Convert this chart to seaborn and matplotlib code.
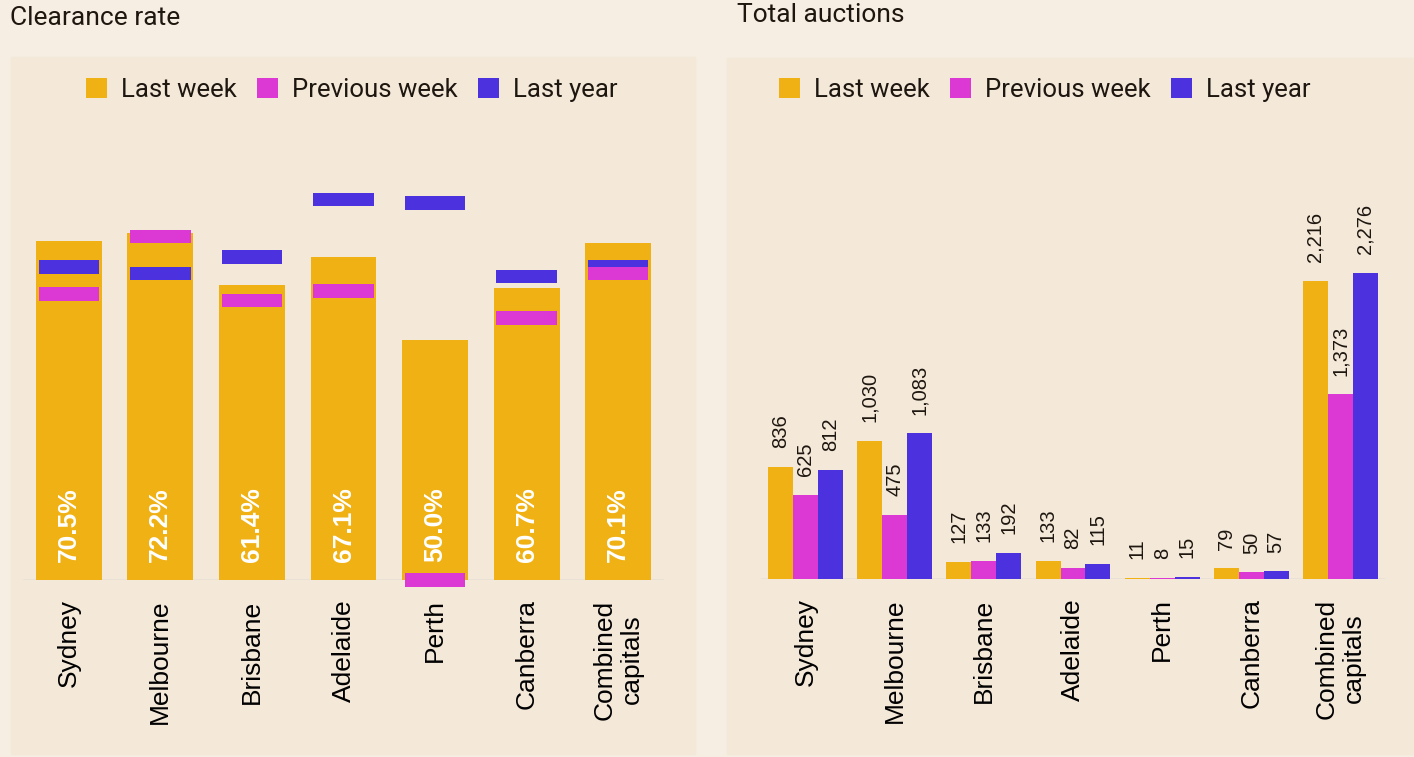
import numpy as np
import pandas as pd
import seaborn as sns
import matplotlib.pyplot as plt
from matplotlib.patches import Patch, Rectangle

sns.set_theme(style="white")
plt.rcParams['font.family'] = ['Liberation Sans', 'DejaVu Sans']

cities = ["Sydney", "Melbourne", "Brisbane", "Adelaide", "Perth", "Canberra", "Combined\ncapitals"]
periods = ["Last week", "Previous week", "Last year"]

# clearance rate (%)
clear_last_week = [70.5, 72.2, 61.4, 67.1, 50.0, 60.7, 70.1]
clear_prev_week = [59.5, 71.4, 58.1, 60.1, 0.0, 54.5, 63.7]
clear_last_year = [65.1, 63.7, 67.2, 79.1, 78.4, 63.1, 65.1]

# total auctions
auct_last_week = [836, 1030, 127, 133, 11, 79, 2216]
auct_prev_week = [625, 475, 133, 82, 8, 50, 1373]
auct_last_year = [812, 1083, 192, 115, 15, 57, 2276]

yellow = "#F0B114"
pink = "#DC38D3"
blue = "#4B32DE"
colors = [yellow, pink, blue]
bg_outer = "#F6EEE2"
bg_panel = "#F4E8D9"
base_col = "#E9E1D6"
text_col = "#1E1710"

W, H = 1414, 757
fig = plt.figure(figsize=(W / 100, H / 100), dpi=100)
fig.patch.set_facecolor(bg_outer)

# panel backgrounds
for x0, x1, y0 in [(11, 695, 57), (727, 1414, 58)]:
    fig.patches.append(Rectangle((x0 / W, 1 - 754 / H), (x1 - x0) / W, (754 - y0) / H,
                                 transform=fig.transFigure, color=bg_panel, zorder=-5))

ax1 = fig.add_axes([23 / W, 1 - 580 / H, 641 / W, 450 / H])
ax2 = fig.add_axes([761 / W, 1 - 579 / H, 624 / W, 449 / H])

# --- clearance rate ---
sns.barplot(x=cities, y=clear_last_week, color=yellow, width=0.72, saturation=1, ax=ax1,
            zorder=2, edgecolor="none", linewidth=0)
mh = 2.77
xs = np.arange(len(cities))
ax1.bar(xs, mh, bottom=np.array(clear_last_year) - mh / 2, width=0.66, color=blue,
        zorder=3, linewidth=0, clip_on=False)
ax1.bar(xs, mh, bottom=np.array(clear_prev_week) - mh / 2, width=0.66, color=pink,
        zorder=4, linewidth=0, clip_on=False)
for i, v in enumerate(clear_last_week):
    ax1.annotate(f"{v:.1f}%", xy=(i, 0), xytext=(0, 13), textcoords="offset points",
                 rotation=90, ha="center", va="bottom", color="white",
                 fontsize=19, fontweight="bold", zorder=5)
ax1.set_ylim(0, 93.6)

# --- total auctions ---
df = pd.DataFrame({
    "city": cities * 3,
    "period": np.repeat(periods, len(cities)),
    "value": auct_last_week + auct_prev_week + auct_last_year,
})
sns.barplot(data=df, x="city", y="value", hue="period", palette=colors, width=0.84,
            saturation=1, ax=ax2, legend=False, zorder=2, edgecolor="none", linewidth=0)
for cont in ax2.containers:
    ax2.bar_label(cont, labels=[f"{v:,.0f}" for v in cont.datavalues], padding=13.5,
                  rotation=90, fontsize=14.5, color=text_col)
ax2.set_ylim(0, 3340)

for ax in (ax1, ax2):
    ax.set_facecolor("none")
    ax.set_xlim(-0.5, 6.5)
    ax.axhline(0, color=base_col, lw=2, zorder=1)
    ax.set_xlabel("")
    ax.set_ylabel("")
    ax.set_yticks([])
    for s in ax.spines.values():
        s.set_visible(False)
    ax.tick_params(axis="x", length=0, pad=14, labelsize=19, labelcolor="black")
    for lab in ax.get_xticklabels():
        lab.set_rotation(90)
        lab.set_multialignment("center")

# titles
fig.text(10 / W, 1 - 18 / H, "Clearance rate", fontsize=19, color=text_col, va="center",
         family=["Roboto", "DejaVu Sans"])
fig.text(737 / W, 1 - 15 / H, "Total auctions", fontsize=19, color=text_col, va="center",
         family=["Roboto", "DejaVu Sans"])

# legends
handles = [Patch(facecolor=c, edgecolor="none") for c in colors]
for cx in (352, 1045):
    fig.legend(handles, periods, loc="center", bbox_to_anchor=(cx / W, 1 - 90 / H), ncol=3,
               frameon=False, handlelength=0.8, handleheight=0.8, handletextpad=0.55,
               columnspacing=0.8, prop={"family": "Roboto", "size": 18.5},
               labelcolor=text_col)

fig.savefig("out.png", dpi=100, facecolor=fig.get_facecolor())
